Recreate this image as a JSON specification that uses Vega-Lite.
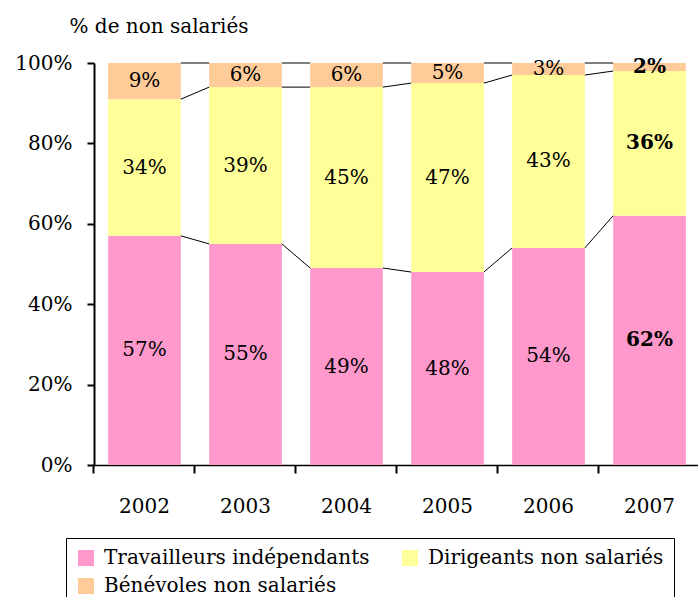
{
  "$schema": "https://vega.github.io/schema/vega-lite/v6.json",
  "width": 606,
  "height": 402,
  "autosize": "none",
  "padding": {"left": 94, "top": 63, "right": 0, "bottom": 132},
  "background": "white",
  "config": {
    "font": "DejaVu Serif",
    "view": {"stroke": null},
    "axis": {"labelFont": "DejaVu Serif", "titleFont": "DejaVu Serif", "labelColor": "black", "domainColor": "black", "tickColor": "black", "grid": false}
  },
  "data": {
    "values": [
      {"year": "2002", "series": "Travailleurs indépendants", "order": 1, "value": 0.57},
      {"year": "2002", "series": "Dirigeants non salariés", "order": 2, "value": 0.34},
      {"year": "2002", "series": "Bénévoles non salariés", "order": 3, "value": 0.09},
      {"year": "2003", "series": "Travailleurs indépendants", "order": 1, "value": 0.55},
      {"year": "2003", "series": "Dirigeants non salariés", "order": 2, "value": 0.39},
      {"year": "2003", "series": "Bénévoles non salariés", "order": 3, "value": 0.06},
      {"year": "2004", "series": "Travailleurs indépendants", "order": 1, "value": 0.49},
      {"year": "2004", "series": "Dirigeants non salariés", "order": 2, "value": 0.45},
      {"year": "2004", "series": "Bénévoles non salariés", "order": 3, "value": 0.06},
      {"year": "2005", "series": "Travailleurs indépendants", "order": 1, "value": 0.48},
      {"year": "2005", "series": "Dirigeants non salariés", "order": 2, "value": 0.47},
      {"year": "2005", "series": "Bénévoles non salariés", "order": 3, "value": 0.05},
      {"year": "2006", "series": "Travailleurs indépendants", "order": 1, "value": 0.54},
      {"year": "2006", "series": "Dirigeants non salariés", "order": 2, "value": 0.43},
      {"year": "2006", "series": "Bénévoles non salariés", "order": 3, "value": 0.03},
      {"year": "2007", "series": "Travailleurs indépendants", "order": 1, "value": 0.62},
      {"year": "2007", "series": "Dirigeants non salariés", "order": 2, "value": 0.36},
      {"year": "2007", "series": "Bénévoles non salariés", "order": 3, "value": 0.02}
    ]
  },
  "layer": [
    {
      "mark": {"type": "bar"},
      "encoding": {
        "x": {
          "field": "year", "type": "ordinal",
          "scale": {"paddingInner": 0.28, "paddingOuter": 0.14},
          "axis": {"title": null, "labelAngle": 0, "labelFontSize": 20, "tickSize": 8, "tickWidth": 2, "domainWidth": 1.5, "bandPosition": -0.195, "labelPadding": 23}
        },
        "y": {
          "field": "value", "type": "quantitative", "stack": "zero",
          "scale": {"domain": [0, 1], "nice": false},
          "axis": {"format": ".0%", "values": [0, 0.2, 0.4, 0.6, 0.8, 1], "labelFontSize": 20, "tickSize": 7, "tickWidth": 2, "domainWidth": 2, "labelPadding": 15,
            "title": "% de non salariés", "titleAngle": 0, "titleFontSize": 20, "titleFontWeight": "normal", "titleAlign": "left", "titleBaseline": "alphabetic", "titleX": -25, "titleY": -31}
        },
        "color": {
          "field": "series", "type": "nominal",
          "scale": {"domain": ["Travailleurs indépendants", "Dirigeants non salariés", "Bénévoles non salariés"], "range": ["#FF99CC", "#FFFF99", "#FFCC99"]},
          "legend": {"title": null, "orient": "none", "legendX": -28, "legendY": 475, "columns": 2, "direction": "horizontal",
            "symbolType": "square", "symbolSize": 256, "symbolStrokeWidth": 0, "labelFontSize": 20, "labelFont": "DejaVu Serif", "labelColor": "black", "labelOffset": 8, "columnPadding": 30, "rowPadding": 8, "padding": 10, "strokeColor": "black", "labelLimit": 400}
        },
        "order": {"field": "order", "type": "quantitative"}
      }
    },
    {
      "transform": [
        {"window": [{"op": "sum", "field": "value", "as": "cum"}], "groupby": ["year"], "sort": [{"field": "order"}], "frame": [null, 0]},
        {"window": [{"op": "lead", "field": "cum", "as": "nextCum"}, {"op": "lead", "field": "year", "as": "nextYear"}], "groupby": ["series"], "sort": [{"field": "year"}]},
        {"filter": "datum.nextYear != null"}
      ],
      "mark": {"type": "rule", "color": "black", "strokeWidth": 1},
      "encoding": {
        "x": {"field": "year", "type": "ordinal", "bandPosition": 1},
        "x2": {"field": "nextYear", "bandPosition": 0},
        "y": {"field": "cum", "type": "quantitative"},
        "y2": {"field": "nextCum"}
      }
    },
    {
      "transform": [{"filter": "datum.year !== '2007'"}],
      "mark": {"type": "text", "fontSize": 20, "font": "DejaVu Serif", "color": "black", "baseline": "middle", "fontWeight": "normal"},
      "encoding": {
        "x": {"field": "year", "type": "ordinal"},
        "y": {"field": "value", "type": "quantitative", "stack": "zero", "bandPosition": 0.5},
        "order": {"field": "order", "type": "quantitative"},
        "detail": {"field": "series"},
        "text": {"field": "value", "type": "quantitative", "format": ".0%"}
      }
    },
    {
      "transform": [{"filter": "datum.year === '2007'"}],
      "mark": {"type": "text", "fontSize": 20, "font": "DejaVu Serif", "color": "black", "baseline": "middle", "fontWeight": "bold"},
      "encoding": {
        "x": {"field": "year", "type": "ordinal"},
        "y": {"field": "value", "type": "quantitative", "stack": "zero", "bandPosition": 0.5},
        "order": {"field": "order", "type": "quantitative"},
        "detail": {"field": "series"},
        "text": {"field": "value", "type": "quantitative", "format": ".0%"}
      }
    }
  ]
}
